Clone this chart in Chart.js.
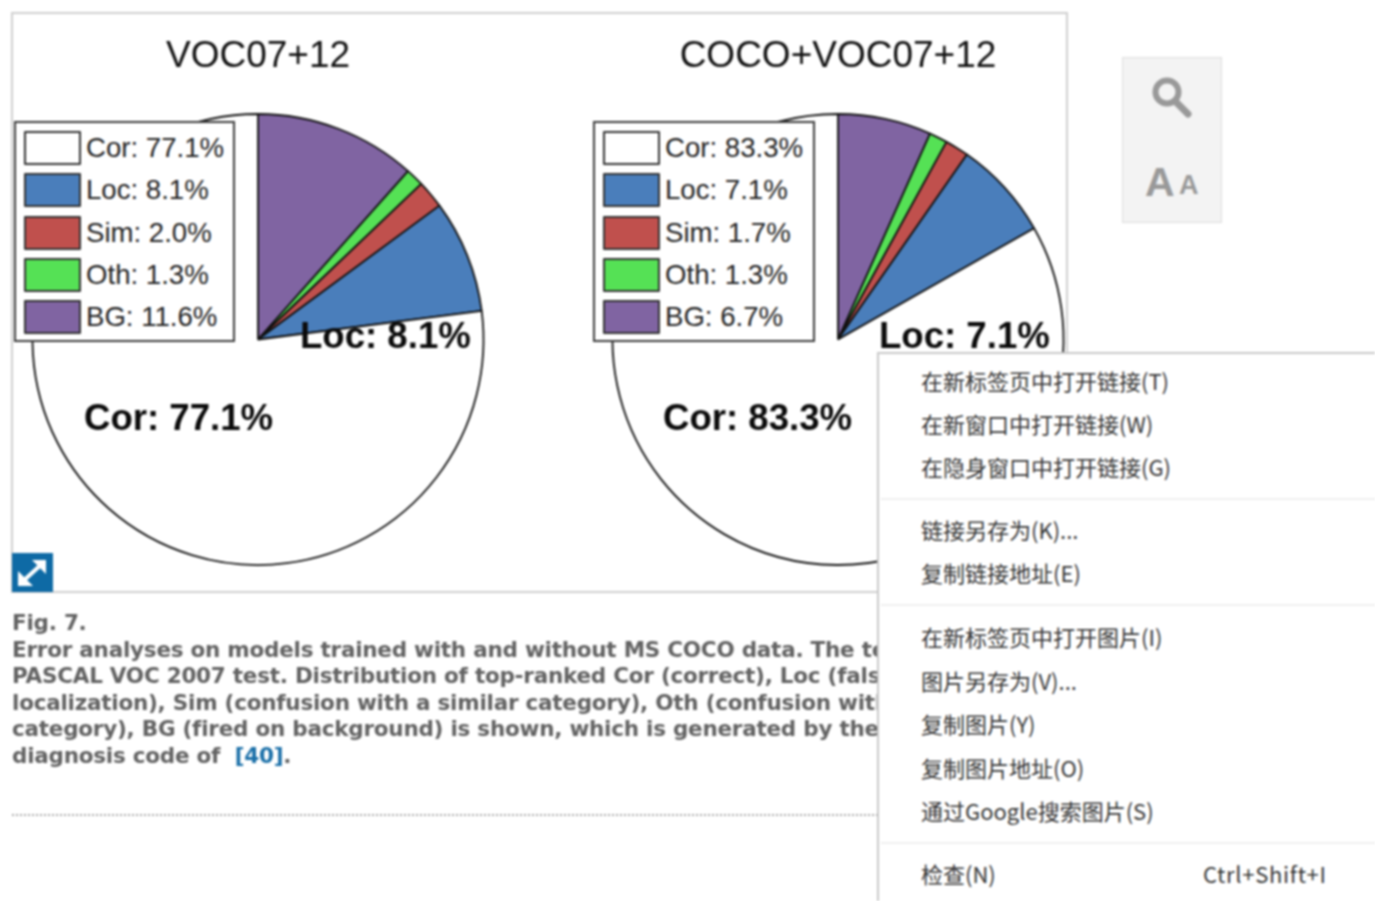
<!DOCTYPE html>
<html>
<head>
<meta charset="utf-8">
<title>Fig. 7</title>
<script src="https://cdn.jsdelivr.net/npm/chart.js@4/dist/chart.umd.min.js"></script>
<style>
  html, body { margin: 0; padding: 0; background: #fff; overflow: hidden; }
  #page { position: relative; width: 1375px; height: 901px; filter: blur(0.8px); overflow: hidden; }
  #page > * { position: absolute; }
  #frame { left: 11px; top: 12px; width: 1053px; height: 577px; border: 2px solid #cfcfcf; }
  canvas { display: block; }
  .chartBox { top: 35px; width: 480px; height: 558px; }
  .legend { top: 121px; height: 217px; background: #fff; border: 2px solid #3c3c3c; }
  .swatch { position: absolute; left: 8px; width: 53px; height: 30px; border: 2px solid #333; border-radius: 1px; }
  .legendText { position: absolute; left: 70px; font: 27.6px "Liberation Sans", sans-serif; color: #222; line-height: 32px; white-space: nowrap; }
  .sliceLabel { font: bold 36.6px "Liberation Sans", sans-serif; color: #0a0a0a; line-height: 40px; white-space: nowrap; }
  #tool { left: 1122px; top: 57px; width: 98px; height: 164px; background: #f3f3f3; border: 1px solid #dedede; }
  #sizeA { position: absolute; left: 22px; top: 101px; font: bold 41px "Liberation Sans", sans-serif; color: #999; line-height: 46px; }
  #sizeB { position: absolute; left: 56px; top: 111px; font: bold 27px "Liberation Sans", sans-serif; color: #999; line-height: 32px; }
  #expand { left: 12px; top: 553px; width: 41px; height: 39px; background: #0e6aa5; }
  .caption { left: 12px; font: bold 21.5px "DejaVu Sans", sans-serif; letter-spacing: -0.24px; color: #626262; line-height: 27px; white-space: nowrap; }
  .caption b { color: #1a6fa8; }
  #dots { left: 12px; top: 814px; width: 866px; border-top: 2px dotted #a8a8a8; }
  #menu { left: 877px; top: 352px; width: 498px; height: 549px; background: #fff; border-left: 2px solid #c9c9c9; border-top: 2px solid #c9c9c9; box-sizing: border-box; }
  .item { position: absolute; left: 42px; font: 22px "Noto Sans CJK SC", sans-serif; color: #363636; line-height: 30px; white-space: nowrap; }
  .sep { position: absolute; left: 2px; right: 0; height: 2px; background: #efefef; }
</style>
</head>
<body>
<div id="page">
  <div id="frame"></div>
  <div class="chartBox" style="left:18px"><canvas id="vocChart" width="480" height="558"></canvas></div>
  <div class="chartBox" style="left:598px"><canvas id="cocoChart" width="480" height="558"></canvas></div>
  <div class="legend" id="vocLegend" style="left:14px;width:217px"></div>
  <div class="legend" id="cocoLegend" style="left:593px;width:218px"></div>
  <div class="sliceLabel" id="vocLoc" style="left:300px;top:316px"></div>
  <div class="sliceLabel" id="vocCor" style="left:84px;top:398px"></div>
  <div class="sliceLabel" id="cocoLoc" style="left:879px;top:316px"></div>
  <div class="sliceLabel" id="cocoCor" style="left:663px;top:398px"></div>

  <div id="tool">
    <svg width="98" height="90" style="position:absolute;left:0;top:0">
      <circle cx="44" cy="34" r="11.5" fill="none" stroke="#999" stroke-width="6"/>
      <line x1="52" y1="43" x2="65" y2="56" stroke="#999" stroke-width="7" stroke-linecap="round"/>
    </svg>
    <span id="sizeA">A</span><span id="sizeB">A</span>
  </div>

  <div id="expand">
    <svg width="41" height="39">
      <path d="M9 30 L32 9" stroke="#fff" stroke-width="4"/>
      <path d="M20 7 H34 V21 Z" fill="#fff"/>
      <path d="M6 18 V33 H21 Z" fill="#fff"/>
    </svg>
  </div>

  <div class="caption" style="top:609px">Fig. 7.</div>
  <div class="caption" style="top:636px">Error analyses on models trained with and without MS COCO data. The test set is</div>
  <div class="caption" style="top:662px">PASCAL VOC 2007 test. Distribution of top-ranked Cor (correct), Loc (false</div>
  <div class="caption" style="top:689px">localization), Sim (confusion with a similar category), Oth (confusion with</div>
  <div class="caption" style="top:715px">category), BG (fired on background) is shown, which is generated by the</div>
  <div class="caption" style="top:742px">diagnosis code of &nbsp;<b>[40]</b>.</div>
  <div id="dots"></div>

  <div id="menu"></div>
</div>

<script>
const categories = ["Cor", "Loc", "Sim", "Oth", "BG"];
const colors = ["#ffffff", "#4a7ebb", "#c0504d", "#55e155", "#8064a2"];
const vocValues = [77.1, 8.1, 2.0, 1.3, 11.6];
const cocoValues = [83.3, 7.1, 1.7, 1.3, 6.7];
const legendTops = [8, 50, 93, 135, 177];

const menuItems = [
  ["在新标签页中打开链接(T)", 382],
  ["在新窗口中打开链接(W)", 425],
  ["在隐身窗口中打开链接(G)", 468],
  ["链接另存为(K)...", 531],
  ["复制链接地址(E)", 574],
  ["在新标签页中打开图片(I)", 638],
  ["图片另存为(V)...", 682],
  ["复制图片(Y)", 725],
  ["复制图片地址(O)", 769],
  ["通过Google搜索图片(S)", 812],
  ["检查(N)", 875],
];
const menuSeps = [498, 604, 842];

// pie runs clockwise from the top starting at BG, so reverse the legend order
const createPie = (id, titleText, values) => {
  new Chart(document.getElementById(id), {
    type: "pie",
    data: {
      labels: [...categories].reverse(),
      datasets: [
        {
          data: [...values].reverse(),
          backgroundColor: [...colors].reverse(),
          borderColor: "#111",
          borderWidth: 1.8,
          radius: 225.5,
        },
      ],
    },
    options: {
      responsive: false,
      animation: false,
      events: [],
      plugins: {
        legend: { display: false },
        tooltip: { enabled: false },
        title: {
          display: true,
          text: titleText,
          color: "#111",
          font: { family: "Liberation Sans", size: 37, weight: "normal", lineHeight: 44 / 37 },
          padding: { top: 0, bottom: 7 },
        },
      },
    },
  });
};

const renderLegend = (id, values) => {
  const box = document.getElementById(id);
  categories.forEach((name, i) => {
    const swatch = document.createElement("div");
    swatch.className = "swatch";
    swatch.style.top = legendTops[i] + "px";
    swatch.style.background = colors[i];
    box.appendChild(swatch);
    const text = document.createElement("div");
    text.className = "legendText";
    text.style.top = legendTops[i] + 1 + "px";
    text.textContent = `${name}: ${values[i].toFixed(1)}%`;
    box.appendChild(text);
  });
};

const renderMenu = () => {
  const menu = document.getElementById("menu");
  menuItems.forEach(([label, y]) => {
    const item = document.createElement("div");
    item.className = "item";
    item.style.top = y - 352 - 19 + "px";
    item.textContent = label;
    menu.appendChild(item);
  });
  const shortcut = document.createElement("div");
  shortcut.className = "item";
  shortcut.style.left = "324px";
  shortcut.style.letterSpacing = "0.7px";
  shortcut.style.top = 875 - 352 - 19 + "px";
  shortcut.textContent = "Ctrl+Shift+I";
  menu.appendChild(shortcut);
  menuSeps.forEach((y) => {
    const sep = document.createElement("div");
    sep.className = "sep";
    sep.style.top = y - 352 - 2 + "px";
    menu.appendChild(sep);
  });
};

createPie("vocChart", "VOC07+12", vocValues);
createPie("cocoChart", "COCO+VOC07+12", cocoValues);
renderLegend("vocLegend", vocValues);
renderLegend("cocoLegend", cocoValues);
renderMenu();

document.getElementById("vocLoc").textContent = `Loc: ${vocValues[1]}%`;
document.getElementById("vocCor").textContent = `Cor: ${vocValues[0]}%`;
document.getElementById("cocoLoc").textContent = `Loc: ${cocoValues[1]}%`;
document.getElementById("cocoCor").textContent = `Cor: ${cocoValues[0]}%`;
</script>
</body>
</html>
